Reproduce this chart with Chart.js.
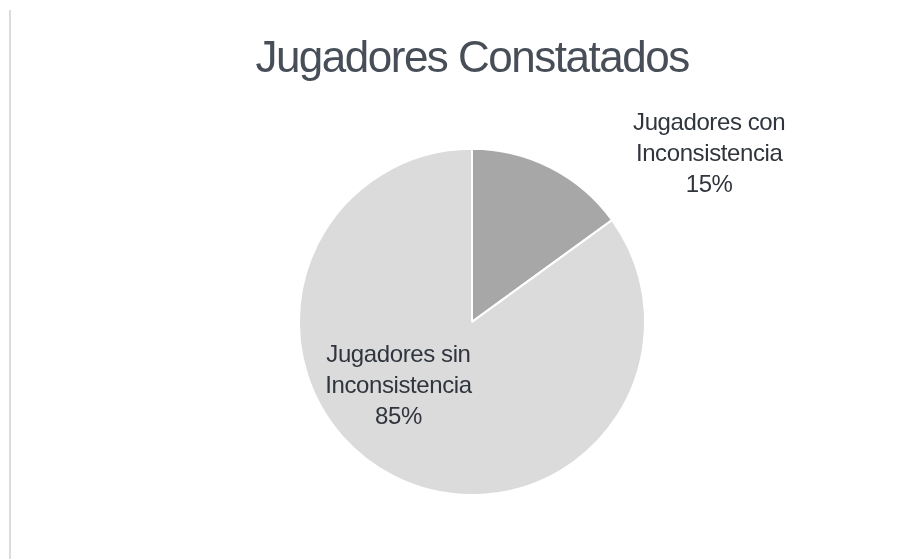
<!DOCTYPE html>
<html>
<head>
<meta charset="utf-8">
<script src="https://cdn.jsdelivr.net/npm/chart.js@4"></script>
<style>
  html, body { margin: 0; padding: 0; background: #ffffff; }
  #wrap { width: 922px; height: 559px; position: relative; }
</style>
</head>
<body>
<div id="wrap"><canvas id="pieChart" width="922" height="559"></canvas></div>
<script>
const chartTitle = "Jugadores Constatados";
const categories = ["Jugadores con Inconsistencia", "Jugadores sin Inconsistencia"];
const labelLines = [["Jugadores con", "Inconsistencia"], ["Jugadores sin", "Inconsistencia"]];
const percentages = [15, 85];
const sliceColors = ["#a7a7a7", "#dbdbdb"];

// label anchor, in radius units from the pie centre (Excel "best fit" placement)
const labelOffsets = [[1.37, -0.97], [-0.425, 0.375]];

const textColor = "#30353d";

const sheetPlugin = {
    id: "sheet",
    beforeDraw(chart) {
        const ctx = chart.ctx;
        ctx.save();
        ctx.fillStyle = "#ffffff";
        ctx.fillRect(0, 0, chart.width, chart.height);
        // faint left border of the scanned page
        ctx.strokeStyle = "#cfcfcf";
        ctx.lineWidth = 1.5;
        ctx.beginPath();
        ctx.moveTo(10, 10);
        ctx.lineTo(10, chart.height);
        ctx.stroke();
        ctx.restore();
        // condensed look of the title
        ctx.letterSpacing = "-1.5px";
    },
    afterDraw(chart) {
        chart.ctx.letterSpacing = "0px";
    }
};

const sliceLabels = {
    id: "sliceLabels",
    afterDatasetsDraw(chart) {
        const ctx = chart.ctx;
        const meta = chart.getDatasetMeta(0);
        ctx.save();
        ctx.letterSpacing = "-0.4px";
        ctx.font = "24px 'Liberation Sans', Arial, sans-serif";
        ctx.fillStyle = textColor;
        ctx.textAlign = "center";
        ctx.textBaseline = "middle";
        meta.data.forEach(function (arc, i) {
            const r = arc.outerRadius;
            const cx = arc.x + labelOffsets[i][0] * r;
            const cy = arc.y + labelOffsets[i][1] * r;
            const lines = labelLines[i].concat([percentages[i] + "%"]);
            const lh = 31;
            lines.forEach(function (line, k) {
                ctx.fillText(line, cx, cy + (k - 1) * lh);
            });
        });
        ctx.restore();
    }
};

const ctx = document.getElementById("pieChart").getContext("2d");
new Chart(ctx, {
    type: "pie",
    data: {
        labels: categories,
        datasets: [{
            data: percentages,
            backgroundColor: sliceColors,
            borderColor: "#ffffff",
            borderWidth: 2
        }]
    },
    options: {
        responsive: false,
        animation: false,
        layout: {
            padding: { left: 22, right: 0, top: 0, bottom: 63 }
        },
        plugins: {
            legend: { display: false },
            tooltip: { enabled: false },
            title: {
                display: true,
                text: chartTitle,
                color: "#474e58",
                font: { family: "'Liberation Sans', Arial, sans-serif", size: 44, weight: "normal" },
                padding: { top: 33, bottom: 62 }
            }
        }
    },
    plugins: [sheetPlugin, sliceLabels]
});
</script>
</body>
</html>
